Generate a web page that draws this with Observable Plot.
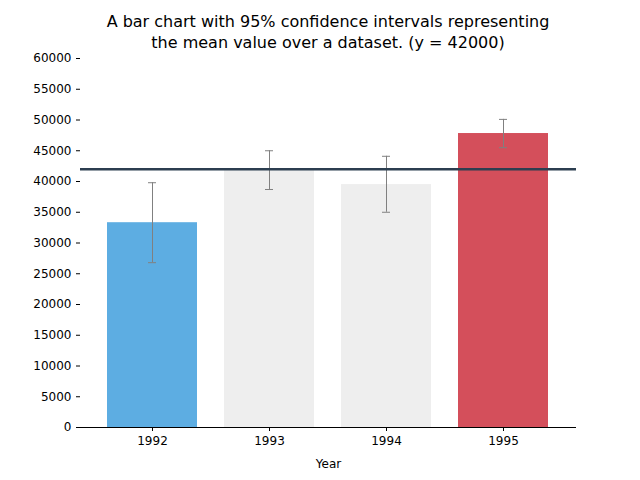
<!DOCTYPE html>
<html>
<head>
<meta charset="utf-8">
<script src="https://cdn.jsdelivr.net/npm/d3@7"></script>
<script src="https://cdn.jsdelivr.net/npm/@observablehq/plot@0.6"></script>
<style>
  body { margin: 0; background: #fff; font-family: "DejaVu Sans", sans-serif; }
  #title { box-sizing: border-box; width: 640px; height: 50px; padding: 11px 64px 0 80px;
           text-align: center; font-size: 16px; line-height: 21px; }
</style>
</head>
<body>
<div id="title">A bar chart with 95% confidence intervals representing<br>the mean value over a dataset. (y = 42000)</div>
<div id="chart"></div>
<script>
const years = ["1992", "1993", "1994", "1995"];
const means = [33300, 41800, 39500, 47800];
const lower = [26800, 38700, 35000, 45500];
const upper = [39800, 45000, 44100, 50100];
const barColors = ["#5dade2", "#eeeeee", "#eeeeee", "#d44f5b"];
const target = 42000;

const data = years.map((y, i) => ({year: y, mean: means[i], lo: lower[i], hi: upper[i], color: barColors[i]}));

const chart = Plot.plot({
  width: 640,
  height: 430,
  marginTop: 8,
  marginBottom: 53,
  marginLeft: 80,
  marginRight: 64,
  style: {fontFamily: "DejaVu Sans, sans-serif", fontSize: "12px", color: "#000"},
  x: {domain: years, padding: 0.23, align: 0.5, label: "Year", labelAnchor: "center", labelOffset: 40, tickSize: 4},
  y: {domain: [0, 60000], ticks: d3.range(0, 60001, 10000), label: null, tickSize: 4, tickFormat: d => String(d)},
  marks: [
    Plot.barY(data, {x: "year", y: "mean", fill: "color"}),
    Plot.ruleX(data, {x: "year", y1: "lo", y2: "hi", stroke: "#808080", strokeWidth: 1}),
    Plot.tickY(data, {x: "year", y: "lo", stroke: "#808080", insetLeft: 41, insetRight: 41}),
    Plot.tickY(data, {x: "year", y: "hi", stroke: "#808080", insetLeft: 41, insetRight: 41}),
    Plot.ruleY([target], {stroke: "#2c3e50", strokeWidth: 2.5}),
    Plot.axisY({tickSize: 4, tickFormat: d => String(d), label: null}),
    Plot.ruleX([0], {frameAnchor: "left", stroke: "#000"}),
    Plot.ruleY([0], {stroke: "#000"})
  ]
});

d3.select("#chart").append(() => chart);
</script>
</body>
</html>
